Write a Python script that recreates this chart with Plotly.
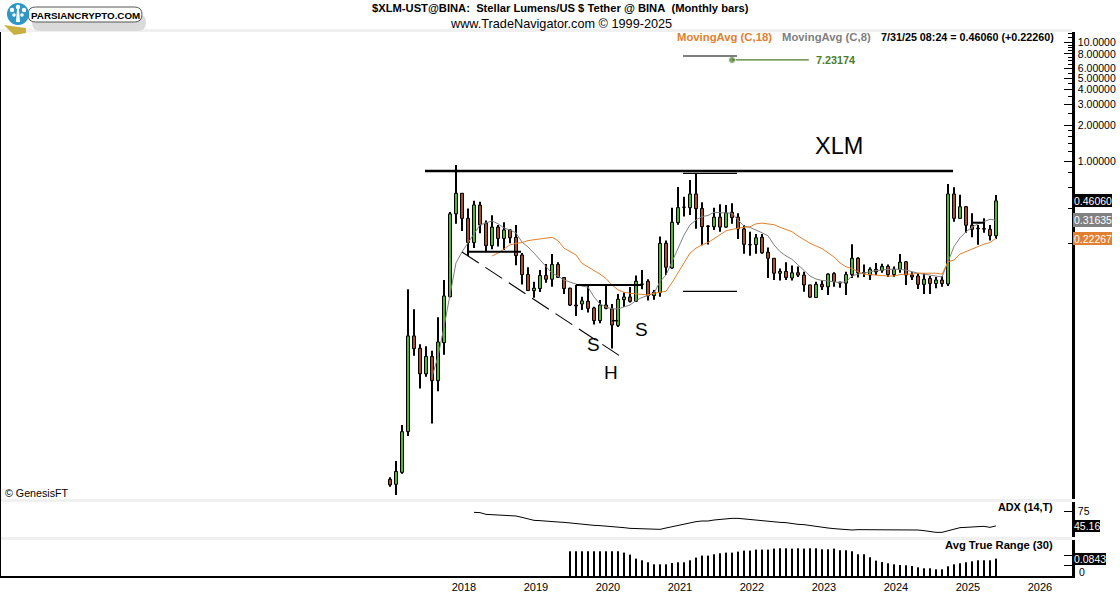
import plotly.graph_objects as go

# Monthly OHLC values (Feb 2017 .. Jul 2025)
opens = [.00206,.00187,.00236,.00520,.0334,.0263,.0160,.0224,.0140,.0293,.0715,.358,.534,.328,.205,.424,.299,.193,.277,.222,.262,.227,.161,.110,.0806,.0838,.108,.1005,.134,.104,.0845,.0609,.0621,.0655,.0575,.0450,.0609,.0564,.0410,.0676,.0712,.0655,.0917,.0967,.0732,.0775,.202,.125,.302,.406,.404,.527,.398,.283,.279,.336,.277,.369,.336,.267,.197,.197,.227,.170,.151,.113,.117,.103,.114,.109,.0900,.0705,.0910,.0868,.112,.0950,.0930,.110,.151,.1145,.109,.122,.119,.129,.110,.122,.141,.109,.107,.0910,.102,.0925,.0989,.0917,.527,.328,.411,.287,.271,.269,.265,.234]
highs = [.00214,.00294,.00592,.0827,.0561,.0284,.0274,.0250,.0480,.0989,.372,.925,.534,.398,.463,.454,.314,.349,.289,.304,.267,.289,.167,.127,.0959,.120,.135,.164,.140,.105,.0850,.0900,.0715,.0900,.0590,.0673,.0900,.0621,.0756,.0777,.0865,.108,.120,.1005,.0817,.231,.213,.404,.604,.499,.691,.787,.448,.287,.404,.432,.426,.441,.362,.289,.253,.242,.242,.186,.151,.124,.140,.131,.129,.116,.0900,.0959,.0980,.113,.115,.0959,.116,.198,.154,.134,.127,.138,.136,.134,.129,.164,.143,.115,.113,.113,.107,.105,.107,.639,.600,.518,.417,.362,.289,.328,.289,.5155]
lows = [.00178,.00152,.00229,.00478,.0227,.0120,.0151,.0061,.0114,.0232,.0710,.295,.2568,.158,.184,.246,.172,.180,.190,.177,.202,.132,.0907,.0806,.0700,.0785,.0940,.0868,.103,.0756,.0598,.0493,.0553,.0527,.0417,.0428,.0561,.0262,.0397,.0585,.0640,.0650,.0827,.0664,.0676,.0715,.109,.123,.290,.340,.351,.268,.195,.197,.262,.253,.274,.295,.220,.165,.159,.165,.165,.103,.0989,.0980,.0989,.0980,.105,.0790,.0700,.0700,.0817,.0741,.0868,.0850,.0741,.103,.104,.105,.0989,.109,.114,.105,.105,.114,.0900,.0989,.0833,.0756,.0756,.0845,.0868,.0883,.307,.328,.248,.227,.196,.248,.213,.220]
closes = [.00185,.00240,.00520,.0334,.0261,.0160,.0224,.0140,.0297,.0726,.358,.534,.328,.205,.426,.289,.193,.277,.222,.262,.225,.159,.110,.0806,.0845,.108,.1005,.134,.104,.0838,.0609,.0598,.0660,.0571,.0450,.0609,.0571,.0413,.0682,.0712,.0655,.0967,.0910,.0732,.0781,.202,.127,.304,.404,.408,.527,.396,.279,.280,.336,.277,.364,.333,.267,.198,.196,.225,.168,.151,.113,.117,.104,.114,.109,.0900,.0710,.0910,.0868,.111,.0959,.0932,.110,.151,.114,.1135,.122,.116,.129,.110,.122,.140,.109,.105,.0910,.1005,.0925,.0989,.0925,.527,.328,.411,.287,.265,.268,.266,.234,.4606]

ma8_start = 7
ma8 = [.0151,.0224,.0398,.0770,.138,.171,.203,.247,.289,.300,.312,.295,.272,.262,.247,.207,.188,.167,.146,.129,.113,.107,.0990,.0952,.0915,.0880,.0862,.0712,.0620,.0587,.0565,.0565,.0587,.0610,.0664,.0705,.0732,.0770,.0959,.109,.141,.184,.237,.289,.318,.340,.347,.369,.366,.366,.362,.318,.283,.275,.262,.248,.234,.196,.172,.158,.148,.132,.119,.107,.101,.0980,.0973,.0959,.0940,.0959,.107,.111,.114,.116,.119,.120,.122,.122,.122,.120,.116,.113,.111,.109,.107,.105,.141,.190,.225,.253,.276,.295,.308,.322,.31635]
ma18_start = 17
ma18 = [.158,.167,.181,.196,.202,.205,.213,.216,.220,.222,.227,.213,.184,.172,.161,.137,.128,.120,.111,.102,.0900,.0817,.0781,.0765,.0756,.0756,.0741,.0765,.0785,.0795,.0940,.114,.138,.167,.184,.196,.205,.222,.237,.257,.265,.271,.276,.279,.295,.299,.295,.290,.276,.265,.253,.233,.216,.202,.192,.182,.168,.155,.138,.128,.124,.116,.111,.110,.109,.107,.107,.107,.110,.111,.111,.113,.113,.113,.113,.111,.141,.146,.164,.172,.180,.190,.199,.205,.22267]

adx_start = 14
adx = [72.3,71.7,68.3,67.7,67,66.3,66.3,65,62.3,59,56.3,55.7,54.3,53.7,53,52.3,51,49,48.3,47.7,46.3,45.7,45,43.7,43,41.7,40.3,39.7,39,38.3,38.3,38.3,41,43.7,46.3,48.3,51,53.7,55,55,57,58.3,59.7,60.3,60.3,59,58.3,57,56.3,55,53.7,52.3,51.7,49.7,48.3,47.7,45.7,43.7,42.3,41,39.7,39,37,37,37.7,37.7,37.7,38.3,38.3,38.3,38.3,38.3,38.3,38.3,37,35.7,33.7,32.3,32.3,35.7,39,41.7,42.3,42.3,43.7,44.3,42.3,45.16]

atr_start = 30
atr = [.12,.12,.12,.12,.12,.12,.12,.12,.12,.1135,.1037,.0843,.0762,.0665,.0567,.0567,.0567,.0632,.0665,.0665,.0762,.0892,.0989,.0989,.1054,.1102,.1135,.1135,.1183,.1232,.1232,.1281,.1281,.1281,.1329,.1345,.1345,.1329,.1345,.1329,.1345,.1345,.1297,.1297,.1329,.1248,.1248,.12,.1054,.1054,.0908,.0746,.0681,.0616,.0567,.0535,.0519,.0486,.0421,.0373,.0373,.0324,.0324,.047,.0567,.0616,.0665,.0713,.0762,.0762,.0762,.0843]

year_labels = ["2018","2019","2020","2021","2022","2023","2024","2025","2026"]
price_ticks = [10,8,6,5,4,3,2,1]
price_labels = ["10.0000","8.00000","6.00000","5.00000","4.00000","3.00000","2.00000","1.00000"]
target_value = 7.23174

W, H = 1120, 594
FONT = "Liberation Sans"
GREEN, BROWN = "#58B332", "#A5502A"
GRAY, ORANGE = "#808080", "#E08030"
DARKGREEN = "#4A7C2A"

def px(x): return x / W
def py(y): return 1 - y / H

x = list(range(len(opens)))
PANE_RIGHT = 1072
X0, DX = 390, 6
x_range = [(0 - X0) / DX, (PANE_RIGHT - X0) / DX]

wick_base = lows
wick_size = [h - l for h, l in zip(highs, lows)]
body_base = [min(o, c) for o, c in zip(opens, closes)]
body_size = [abs(c - o) for o, c in zip(opens, closes)]
body_color = [GREEN if c >= o else BROWN for o, c in zip(opens, closes)]

fig = go.Figure()
fig.add_trace(go.Bar(x=x, y=wick_size, base=wick_base, width=0.333,
                     marker=dict(color="black", line=dict(width=0)), showlegend=False, hoverinfo="skip"))
fig.add_trace(go.Bar(x=x, y=body_size, base=body_base, width=0.5,
                     marker=dict(color=body_color, line=dict(color="black", width=1)), showlegend=False, hoverinfo="skip"))
fig.add_trace(go.Scatter(x=x[ma8_start:], y=ma8, mode="lines",
                         line=dict(color=GRAY, width=1), showlegend=False))
fig.add_trace(go.Scatter(x=x[ma18_start:], y=ma18, mode="lines",
                         line=dict(color=ORANGE, width=1), showlegend=False))
# target marker
fig.add_trace(go.Scatter(x=[57, 69.8], y=[target_value * 0.985] * 2, mode="lines+markers",
                         line=dict(color=DARKGREEN, width=1.2),
                         marker=dict(color=DARKGREEN, size=[7, 0]), showlegend=False))
fig.add_trace(go.Scatter(x=x[adx_start:], y=adx, mode="lines", yaxis="y2",
                         line=dict(color="black", width=1), showlegend=False))
fig.add_trace(go.Bar(x=x[atr_start:], y=atr, yaxis="y3", width=0.34,
                     marker=dict(color="black", line=dict(width=0)), showlegend=False))

shapes, ann = [], []

def line(x0, y0, x1, y1, width=1.5, color="black", dash=None):
    shapes.append(dict(type="line", xref="paper", yref="paper",
                       x0=px(x0), y0=py(y0), x1=px(x1), y1=py(y1),
                       line=dict(color=color, width=width, dash=dash)))

def rect(x0, y0, x1, y1, fill, layer="above"):
    shapes.append(dict(type="rect", xref="paper", yref="paper", layer=layer,
                       x0=px(x0), y0=py(y0), x1=px(x1), y1=py(y1),
                       fillcolor=fill, line=dict(width=0)))

def circle(cx, cy, r, fill):
    shapes.append(dict(type="circle", xref="paper", yref="paper",
                       x0=px(cx - r), y0=py(cy - r), x1=px(cx + r), y1=py(cy + r),
                       fillcolor=fill, line=dict(width=0)))

def text(x0, y0, s, size=11, color="black", bold=False, anchor="left"):
    ann.append(dict(xref="paper", yref="paper", x=px(x0), y=py(y0), showarrow=False,
                    text=f"<b>{s}</b>" if bold else s, xanchor=anchor, yanchor="middle",
                    font=dict(family=FONT, size=size, color=color), borderpad=0))

# separator bands
rect(0, 29, PANE_RIGHT, 32, "#F0F0F0", "below")
rect(0, 499, PANE_RIGHT, 502, "#F0F0F0", "below")
rect(0, 537, PANE_RIGHT, 540, "#F0F0F0", "below")
line(0.5, 32, 0.5, 576, 1)

# drawn lines
line(425, 171, 953, 171, 2.5)
line(468, 251.7, 521, 251.7, 2)
line(576, 285, 643, 285, 2)
line(972, 222.7, 985, 222.7, 2)
line(612, 320.7, 618, 320.7, 1.5)
line(683, 173.3, 737, 173.3, 1.2)
line(683, 291.3, 737, 291.3, 1.2)
line(683, 56, 737, 56, 1.2)
line(462, 252, 623, 358, 1.1, dash="20px,8px")

# value flags
rect(1073, 194, 1112, 207, "black")
rect(1073, 213, 1112, 227, GRAY)
rect(1073, 232, 1112, 245, ORANGE)
rect(1073, 520, 1100, 532, "black")
rect(1073, 553, 1106, 565, "black")
text(1092.5, 201, "0.46060", 10.5, "white", anchor="center")
text(1092.5, 220, "0.31635", 10.5, "white", anchor="center")
text(1092.5, 239, "0.22267", 10.5, "white", anchor="center")
text(1086.5, 526, "45.16", 10.5, "white", anchor="center")
text(1089.5, 559, "0.0843", 10.5, "white", anchor="center")
text(1078, 572, "0", 10.5)

# titles and labels
text(560.5, 8, "$XLM-UST@BINA:&nbsp;&nbsp;Stellar Lumens/US $ Tether @ BINA&nbsp;&nbsp;(Monthly bars)", 11.2, bold=True, anchor="center")
text(560.5, 24, "www.TradeNavigator.com © 1999-2025", 12.7, anchor="center")
text(676, 37, "MovingAvg (C,18)", 11.3, ORANGE, True)
text(781, 37, "MovingAvg (C,8)", 11.3, GRAY, True)
text(880, 37, "7/31/25 08:24 = 0.46060 (+0.22260)", 10.75, bold=True)
text(815, 60, "7.23174", 10.8, DARKGREEN, True)
text(839, 146, "XLM", 23.5, anchor="center")
text(593, 344, "S", 19, anchor="center")
text(611, 372, "H", 19, anchor="center")
text(641, 329, "S", 19, anchor="center")
text(4, 493, "© GenesisFT", 10.7)
text(1054, 507, "ADX (14,T)", 10.8, bold=True, anchor="right")
text(1054, 545, "Avg True Range (30)", 11.2, bold=True, anchor="right")

# logo
def pill(x0, y0, x1, y1, fill, edge=None):
    r = (y1 - y0) / 2
    p = (f"M {px(x0 + r)} {py(y0)} L {px(x1 - r)} {py(y0)} "
         f"Q {px(x1)} {py(y0)} {px(x1)} {py(y0 + r)} Q {px(x1)} {py(y1)} {px(x1 - r)} {py(y1)} "
         f"L {px(x0 + r)} {py(y1)} Q {px(x0)} {py(y1)} {px(x0)} {py(y0 + r)} "
         f"Q {px(x0)} {py(y0)} {px(x0 + r)} {py(y0)} Z")
    shapes.append(dict(type="path", xref="paper", yref="paper", path=p, fillcolor=fill,
                       line=dict(color=edge or fill, width=1 if edge else 0)))

pill(32, 14, 146, 31, "#DADADA")
pill(28, 7, 142, 22, "white", "#555555")
shapes.append(dict(type="path", xref="paper", yref="paper", fillcolor="#C9B040", line=dict(width=0),
                   path=f"M {px(4)} {py(25)} L {px(26)} {py(28)} L {px(26)} {py(33)} L {px(14)} {py(35)} Z"))
circle(18, 14, 11, "#2F96C8")
for cx, cy, r in [(18, 7, 2.2), (12, 10, 2.2), (24, 10, 2.2), (14, 15, 1.8), (22, 15, 1.8)]:
    circle(cx, cy, r, "white")
shapes.append(dict(type="path", xref="paper", yref="paper", fillcolor="white", line=dict(width=0),
                   path=f"M {px(17)} {py(9)} L {px(19)} {py(9)} L {px(20)} {py(22)} L {px(16)} {py(22)} Z"))
text(30, 15, "PARSIANCRYPTO.COM", 9.8, bold=True)

tick_font = dict(family=FONT, size=10.5, color="black")
fig.update_layout(
    width=W, height=H, autosize=False, margin=dict(l=0, r=0, t=0, b=0, pad=0),
    paper_bgcolor="white", plot_bgcolor="white", showlegend=False, barmode="overlay",
    shapes=shapes, annotations=ann,
    xaxis=dict(domain=[0, px(PANE_RIGHT)], range=x_range, anchor="y3", automargin=False,
               showgrid=False, zeroline=False, showline=True, linecolor="black", linewidth=2,
               tickmode="array", tickvals=[12.33 + 12 * i for i in range(len(year_labels))],
               ticktext=year_labels, ticks="", tickfont=dict(family=FONT, size=11, color="black")),
    yaxis=dict(type="log", domain=[py(499), py(32)], range=[(161 - 499) / 118.5, (161 - 32) / 118.5],
               side="right", showgrid=False, zeroline=False, showline=True, linecolor="black", linewidth=2.5,
               automargin=False,
               tickmode="array", tickvals=price_ticks, ticktext=price_labels,
               ticks="inside", ticklen=8, tickcolor="black", tickwidth=1, tickfont=tick_font,
               ticklabelstandoff=1,
               minor=dict(tickmode="array", ticks="inside", ticklen=4, tickcolor="black", tickwidth=1,
                          tickvals=[.2, .4, .6, .8, 1.2, 1.4, 1.6, 1.8, 2.5, 3.5, 4.5, 5.5, 6.5, 7, 7.5, 8.5, 9, 9.5, 11, 12])),
    yaxis2=dict(domain=[py(537), py(502)], range=[23, 93], anchor="x", side="right", showgrid=False,
                zeroline=False, showline=True, linecolor="black", linewidth=2.5, automargin=False,
                tickmode="array", tickvals=[75], ticks="inside", ticklen=8, tickcolor="black",
                tickfont=tick_font, ticklabelstandoff=1),
    yaxis3=dict(domain=[py(576), py(540)], range=[0, .1747], anchor="x", side="right", showgrid=False,
                zeroline=False, showline=True, linecolor="black", linewidth=2.5, automargin=False,
                tickmode="array", tickvals=[.05, .1], ticktext=["", ""], ticks="inside", ticklen=8,
                tickcolor="black", tickfont=tick_font),
)

fig.write_html("out.html", config={"displayModeBar": False},
               post_script="document.body.style.margin='0';document.body.style.overflow='hidden';")
